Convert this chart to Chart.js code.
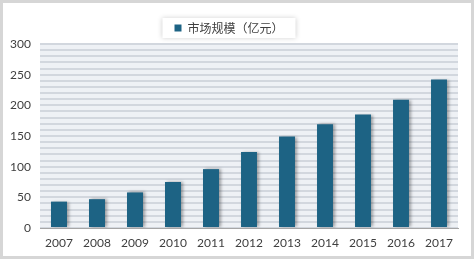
<!DOCTYPE html>
<html>
<head>
<meta charset="utf-8">
<script src="https://cdn.jsdelivr.net/npm/chart.js@4"></script>
<style>
  html, body { margin: 0; padding: 0; background: #fff; }
  #wrap { width: 474px; height: 259px; position: relative; }
</style>
</head>
<body>
<div id="wrap"><canvas id="marketChart" width="474" height="259"></canvas></div>
<script>
const years = ['2007', '2008', '2009', '2010', '2011', '2012', '2013', '2014', '2015', '2016', '2017'];
const marketSize = [43, 47, 58, 75, 96, 124, 149, 169, 185, 209, 242];
const seriesName = '市场规模（亿元）';
const yTicks = [0, 50, 100, 150, 200, 250, 300];

const BAR_COLOR = '#1d6384';
const TEXT_COLOR = '#404040';

// striped plot background, frame, legend card, bar shadows
const backdrop = {
  id: 'backdrop',
  beforeDraw(chart) {
    const { ctx, chartArea: a, width, height } = chart;
    ctx.save();
    ctx.fillStyle = '#ffffff';
    ctx.fillRect(0, 0, width, height);
    ctx.fillStyle = '#eef1f5';
    ctx.fillRect(a.left, a.top, a.right - a.left, a.bottom - a.top);
    ctx.strokeStyle = '#d6d6d6';
    ctx.lineWidth = 3;
    ctx.strokeRect(1.5, 1.5, width - 3, height - 3);

    const lg = chart.legend;
    if (lg && lg.legendHitBoxes.length) {
      const hb = lg.legendHitBoxes[0];
      ctx.shadowColor = 'rgba(0,0,0,0.18)';
      ctx.shadowBlur = 5;
      ctx.fillStyle = '#ffffff';
      ctx.fillRect(hb.left - 12, hb.top - 4, hb.width + 24, hb.height + 8);
    }
    ctx.restore();
  },
  beforeDatasetsDraw(chart) {
    const ctx = chart.ctx;
    ctx.save();
    ctx.shadowColor = 'rgba(0,0,0,0.35)';
    ctx.shadowBlur = 3;
    ctx.shadowOffsetX = 2;
    ctx.shadowOffsetY = 0;
  },
  afterDatasetsDraw(chart) {
    chart.ctx.restore();
  }
};

new Chart(document.getElementById('marketChart'), {
  type: 'bar',
  data: {
    labels: years,
    datasets: [{
      label: seriesName,
      data: marketSize,
      backgroundColor: BAR_COLOR,
      categoryPercentage: 1,
      barPercentage: 0.42
    }]
  },
  options: {
    responsive: false,
    animation: false,
    events: [],
    layout: { padding: { left: 0, right: 16, top: -4, bottom: 8 } },
    plugins: {
      tooltip: { enabled: false },
      legend: {
        position: 'top',
        labels: {
          boxWidth: 7,
          boxHeight: 7,
          padding: 26,
          color: TEXT_COLOR,
          font: { family: '"Noto Sans CJK SC", sans-serif', size: 12 }
        }
      }
    },
    scales: {
      x: {
        grid: { display: false, drawTicks: false },
        border: { display: true, color: '#a6a6a6', width: 1 },
        ticks: {
          color: TEXT_COLOR,
          padding: 8,
          maxRotation: 0,
          font: { family: 'Lato, sans-serif', size: 12 }
        },
        afterFit(scale) { scale.height = 23; }
      },
      y: {
        min: 0,
        max: 300,
        grid: { color: '#d2d7de', lineWidth: 2, drawTicks: false },
        border: { display: false },
        ticks: {
          stepSize: 10,
          autoSkip: false,
          color: TEXT_COLOR,
          padding: 9,
          font: { family: 'Lato, sans-serif', size: 12 },
          callback: v => (yTicks.includes(v) ? v : '')
        },
        afterFit(scale) { scale.width = 40; }
      }
    }
  },
  plugins: [backdrop]
});
</script>
</body>
</html>
